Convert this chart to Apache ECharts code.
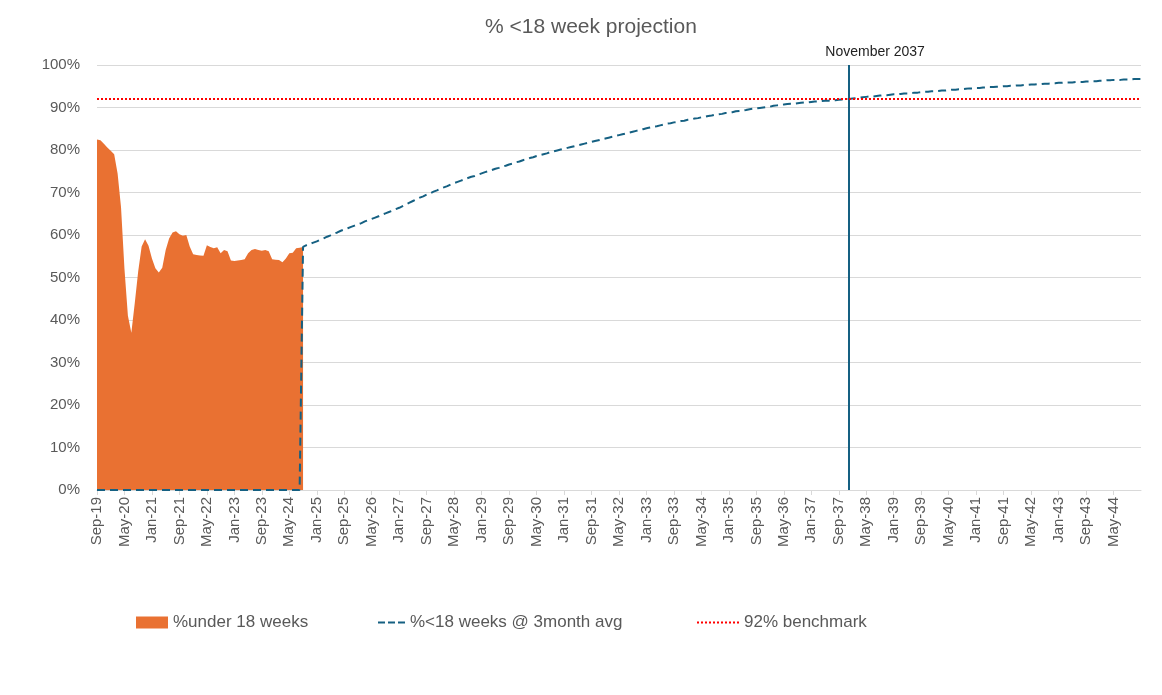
<!DOCTYPE html>
<html><head><meta charset="utf-8">
<script src="https://cdn.jsdelivr.net/npm/echarts@6/dist/echarts.min.js"></script>
<style>html,body{margin:0;padding:0;background:#fff}#c{width:1162px;height:695px}</style>
</head><body><div id="c"></div>
<script>
const startYear = 2019, startMonthIdx = 8, monthCount = 305;
const monthNames = ['Jan','Feb','Mar','Apr','May','Jun','Jul','Aug','Sep','Oct','Nov','Dec'];
const categories = [];
for (let i = 0; i < monthCount; i++) {
  const m = (startMonthIdx + i) % 12;
  const y = startYear + Math.floor((startMonthIdx + i) / 12);
  categories.push(monthNames[m] + '-' + String(y % 100).padStart(2, '0'));
}
const tickLabels = ['Sep-19','May-20','Jan-21','Sep-21','May-22','Jan-23','Sep-23','May-24','Jan-25','Sep-25','May-26','Jan-27','Sep-27','May-28','Jan-29','Sep-29','May-30','Jan-31','Sep-31','May-32','Jan-33','Sep-33','May-34','Jan-35','Sep-35','May-36','Jan-37','Sep-37','May-38','Jan-39','Sep-39','May-40','Jan-41','Sep-41','May-42','Jan-43','Sep-43','May-44'];

// % under 18 weeks (actuals), Sep-19 .. Sep-24
const under18 = [82.5,82.3,81.5,80.6,79.8,79.0,74.5,66.5,52.0,41.0,37.0,44.0,51.5,57.3,59.0,57.5,54.5,52.2,51.2,52.3,
  56.5,59.2,60.6,60.9,60.2,59.8,60.0,57.3,55.5,55.3,55.2,55.1,57.6,57.2,56.9,57.1,55.7,56.5,56.2,54.0,
  53.9,54.0,54.1,54.3,55.7,56.5,56.7,56.5,56.3,56.5,56.2,54.3,54.2,54.1,53.6,54.5,55.7,55.8,56.9,57.0,57.2];

// % <18 weeks @ 3month avg (projection), Sep-19 .. Jan-45
const projection = [0,0,0,0,0,0,0,0,0,0,0,0,0,0,0,0,0,0,0,0,
  0,0,0,0,0,0,0,0,0,0,0,0,0,0,0,0,0,0,0,0,
  0,0,0,0,0,0,0,0,0,0,0,0,0,0,0,0,0,0,0,0,
  57.2,57.6,57.9,58.2,58.5,
  58.9,59.2,59.6,59.9,60.3,60.6,61.0,61.3,
  61.6,61.9,62.2,62.5,62.8,63.2,63.5,63.8,
  64.1,64.4,64.8,65.1,65.4,65.7,66.1,66.4,
  66.8,67.2,67.6,68.0,68.4,68.8,69.1,69.5,
  69.8,70.2,70.5,70.9,71.2,71.5,71.9,72.2,
  72.5,72.8,73.1,73.4,73.7,73.9,74.2,74.5,
  74.8,75.0,75.3,75.6,75.8,76.1,76.3,76.6,
  76.8,77.1,77.3,77.6,77.8,78.1,78.3,78.6,
  78.8,79.0,79.2,79.5,79.7,79.9,80.1,80.3,
  80.5,80.7,80.9,81.1,81.3,81.5,81.7,81.9,
  82.1,82.3,82.5,82.7,82.9,83.1,83.3,83.5,
  83.7,83.9,84.1,84.3,84.5,84.7,84.9,85.1,
  85.3,85.5,85.6,85.8,86.0,86.2,86.3,86.5,
  86.6,86.8,86.9,87.1,87.2,87.4,87.5,87.7,
  87.8,88.0,88.1,88.3,88.4,88.5,88.7,88.8,
  88.9,89.1,89.2,89.3,89.4,89.6,89.7,89.8,
  89.9,90.0,90.1,90.2,90.4,90.5,90.6,90.7,
  90.8,90.9,90.9,91.0,91.1,91.2,91.2,91.3,
  91.4,91.4,91.5,91.6,91.6,91.7,91.7,91.8,
  91.9,92.0,92.0,92.1,92.2,92.3,92.4,92.5,
  92.6,92.6,92.7,92.8,92.9,92.9,93.0,93.1,
  93.1,93.2,93.3,93.3,93.4,93.5,93.5,93.6,
  93.7,93.7,93.8,93.8,93.9,94.0,94.0,94.1,
  94.2,94.2,94.3,94.3,94.4,94.5,94.5,94.6,
  94.6,94.7,94.7,94.8,94.8,94.9,94.9,95.0,
  95.0,95.1,95.1,95.2,95.2,95.3,95.3,95.4,
  95.4,95.5,95.5,95.6,95.6,95.7,95.7,95.8,
  95.8,95.9,95.9,95.9,96.0,96.0,96.0,96.1,
  96.1,96.2,96.2,96.3,96.3,96.4,96.4,96.5,
  96.5,96.5,96.6,96.6,96.6,96.7,96.7,96.7];

const benchmark = 92;
const targetMonthIndex = 219;
const targetLabel = 'November 2037';

const FONT = '"Liberation Sans", Arial, sans-serif';
const TXT = '#595959';
const BLUE = '#156082', ORANGE = '#E97132', RED = '#FF0000';

const dashIcon = 'path://M0,0h7v2h-7zM10,0h7v2h-7zM20,0h7v2h-7z';
let dotIcon = 'path://';
for (let k = 0; k <= 40; k += 4) dotIcon += 'M' + k + ',0h2v2h-2z';

const legendText = { color: TXT, fontSize: 17, fontFamily: FONT };
const legendBase = { top: 614, padding: 0, selectedMode: false, textStyle: legendText };

const chart = echarts.init(document.getElementById('c'), null, { renderer: 'canvas' });
chart.setOption({
  animation: false,
  backgroundColor: '#fff',
  title: {
    text: '% <18 week projection',
    left: 485, top: 17, padding: 0,
    textStyle: { color: TXT, fontSize: 21, fontWeight: 'normal', fontFamily: FONT }
  },
  grid: { left: 97, right: 21, top: 65, bottom: 205, containLabel: false },
  legend: [
    Object.assign({ data: [{ name: '%under 18 weeks', icon: 'rect' }], left: 136, itemWidth: 32, itemHeight: 12 }, legendBase),
    Object.assign({ data: [{ name: '%<18 weeks @ 3month avg', icon: dashIcon }], left: 378, itemWidth: 27, itemHeight: 2 }, legendBase),
    Object.assign({ data: [{ name: '92% benchmark', icon: dotIcon }], left: 697, itemWidth: 42, itemHeight: 2 }, legendBase)
  ],
  xAxis: {
    type: 'category',
    data: categories,
    boundaryGap: false,
    axisLine: { show: true, lineStyle: { color: '#D9D9D9', width: 1 } },
    axisTick: { show: true, length: 5, lineStyle: { color: '#D9D9D9' }, interval: (i, v) => tickLabels.includes(v) },
    axisLabel: { rotate: 90, margin: 7, color: TXT, fontSize: 15, fontFamily: FONT, interval: (i, v) => tickLabels.includes(v) },
    splitLine: { show: false }
  },
  yAxis: {
    type: 'value', min: 0, max: 100, interval: 10,
    axisLine: { show: false }, axisTick: { show: false },
    axisLabel: { formatter: '{value}%', color: TXT, fontSize: 15, fontFamily: FONT, margin: 17 },
    splitLine: { lineStyle: { color: '#D9D9D9', width: 1 } }
  },
  series: [
    {
      name: '%under 18 weeks', type: 'line', data: under18,
      symbol: 'none', color: ORANGE,
      lineStyle: { width: 0 }, areaStyle: { color: ORANGE, opacity: 1 },
      z: 1
    },
    {
      name: '%<18 weeks @ 3month avg', type: 'line', data: projection,
      symbol: 'none', color: BLUE,
      lineStyle: { color: BLUE, width: 2, type: [8, 5] },
      z: 3,
      markLine: {
        silent: true, symbol: 'none',
        lineStyle: { color: BLUE, width: 2, type: 'solid' },
        label: { show: true, position: 'end', formatter: targetLabel, color: '#222', fontSize: 14, fontFamily: FONT, distance: 6, offset: [26, 0] },
        data: [{ xAxis: targetMonthIndex }]
      }
    },
    {
      name: '92% benchmark', type: 'line', data: [],
      symbol: 'none', color: RED,
      lineStyle: { color: RED, width: 2, type: [2, 2] },
      z: 2,
      markLine: {
        silent: true, symbol: 'none',
        lineStyle: { color: RED, width: 2, type: [2, 2] },
        label: { show: false },
        data: [{ yAxis: benchmark }]
      }
    }
  ]
});
</script>
</body></html>
